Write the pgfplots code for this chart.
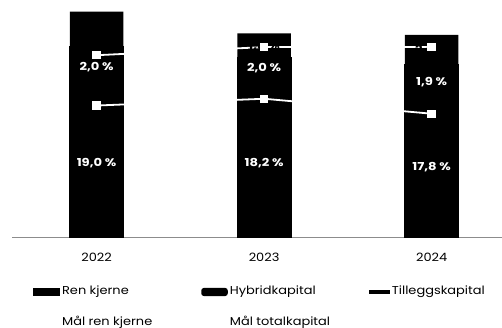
\documentclass[border=0pt]{standalone}
\usepackage{fontspec}
\setmainfont{Poppins}[FakeStretch=1.13]
\newfontfamily\verdifont{Poppins}[FakeStretch=1.2]
\usepackage{pgfplots}
\usepackage{pgfplotstable}
\pgfplotsset{compat=1.18}

% Kapitaldekning (prosent av beregningsgrunnlaget)
\pgfplotstableread{
x ren hyb till
0 19.0 2.0 2.6
1 18.2 2.0 1.8
2 17.8 1.9 2.2
}\kapital

% Kapitalmål
\pgfplotstableread{
x mren mtot
0 16.7 20.4
1 17.2 21.0
2 16.1 21.0
}\maal

\pgfplotsset{
  kapitalaxis/.style={
    at={(12bp,90.5bp)}, anchor=south west,
    scale only axis, width=490bp, height=237.5bp,
    xmin=-0.505, xmax=2.42, ymin=7, ymax=24.46,
  },
}
\tikzset{verdi/.style={font=\verdifont\bfseries\fontsize{11}{12}\selectfont, inner sep=0pt}}

\begin{document}
\begin{tikzpicture}
\begin{axis}[kapitalaxis,
  ybar stacked, bar width=53.5bp,
  axis x line*=bottom, axis y line=none,
  x axis line style={draw=black!45, line width=1bp, -},
  xtick={0,1,2}, xticklabels={2022,2023,2024},
  major tick length=0pt,
  xticklabel style={anchor=base, yshift=-24.2bp, font=\fontsize{11.5}{13}\selectfont},
  legend columns=3,
  legend cell align=left,
  legend style={at={(0.0435,-0.2063)}, anchor=north west, draw=none, fill=none,
    inner sep=0pt, outer sep=0pt, font=\fontsize{11.5}{13}\selectfont,
    nodes={inner sep=0pt, text height=8.5bp, text depth=2.5bp},
    row sep=19.4bp,
    /tikz/every odd column/.append style={column sep=2bp}},
]
\addplot[fill=black, draw=black, line width=1.5bp,
  legend image code/.code={\fill[black] (0bp,-3.3bp) rectangle (25bp,3.3bp);}]
  table[x=x, y=ren] {\kapital};
\addlegendentry{\makebox[139bp][l]{Ren kjerne}}
\addplot[fill=black, draw=black, line width=1.5bp,
  legend image code/.code={\fill[black, rounded corners=2bp] (0bp,-3.3bp) rectangle (25bp,3.3bp);}]
  table[x=x, y=hyb] {\kapital};
\addlegendentry{\makebox[139bp][l]{Hybridkapital}}
\addplot[fill=black, draw=none,
  legend image code/.code={\fill[black] (0bp,-2.2bp) rectangle (21bp,2.2bp);}]
  table[x=x, y=till] {\kapital};
\addlegendentry{Tilleggskapital}
\addlegendimage{legend image code/.code={\draw[white, line width=1.8bp] (0bp,0bp) -- (25bp,0bp);}}
\addlegendentry{\makebox[139bp][l]{Mål ren kjerne}}
\addlegendimage{legend image code/.code={\draw[white, line width=1.8bp] (0bp,0bp) -- (25bp,0bp);}}
\addlegendentry{Mål totalkapital}
\end{axis}

\begin{axis}[kapitalaxis, axis lines=none, xtick=\empty, ytick=\empty, clip=false]
\addplot[white, line width=1.8bp, mark=square*, mark size=3.3bp,
  mark options={fill=white, draw=white}]
  table[x=x, y=mren] {\maal};
\addplot[white, line width=1.8bp, mark=square*, mark size=3.3bp,
  mark options={fill=white, draw=white}]
  table[x=x, y=mtot] {\maal};
% Verdier i søylene
\node[verdi, white] at (axis cs:0,12.48) {19,0 \%};
\node[verdi, white] at (axis cs:1,12.48) {18,2 \%};
\node[verdi, white] at (axis cs:2,12.18) {17,8 \%};
\node[verdi, white] at (axis cs:0,19.54) {2,0 \%};
\node[verdi, white] at (axis cs:1,19.46) {2,0 \%};
\node[verdi, white] at (axis cs:2,18.43) {1,9 \%};
\node[verdi, black] at (axis cs:0,22.3) {2,6 \%};
\node[verdi, black] at (axis cs:1,21.1) {1,8 \%};
\node[verdi, black] at (axis cs:2,20.8) {2,2 \%};
\end{axis}
\pgfresetboundingbox
\path[use as bounding box] (0,0) rectangle (502bp,328bp);
\end{tikzpicture}
\end{document}
